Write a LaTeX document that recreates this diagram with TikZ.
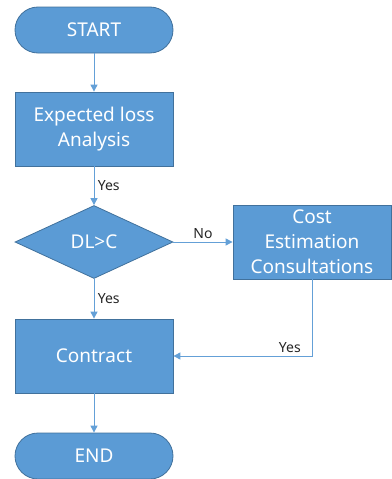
\documentclass[tikz,border=0pt]{standalone}
\usepackage{fontspec}
\setmainfont{Noto Sans}
\usetikzlibrary{shapes.geometric,positioning,arrows.meta}

\definecolor{boxblue}{RGB}{91,155,213}
\definecolor{boxline}{RGB}{65,113,156}
\definecolor{arrowblue}{RGB}{100,160,215}

\tikzset{
  block/.style={rectangle,draw=boxline,fill=boxblue,text=white,line width=0.8pt,
    minimum width=158pt,minimum height=74pt,align=center,
    font=\fontsize{19}{25}\selectfont},
  terminal/.style={block,rounded corners=23pt,minimum height=46pt},
  decision/.style={diamond,draw=boxline,fill=boxblue,text=white,line width=0.8pt,
    aspect=2.16,minimum width=158pt,minimum height=73pt,inner sep=0pt,
    font=\fontsize{19}{25}\selectfont},
  lbl/.style={font=\fontsize{14}{16}\selectfont,text=black!85},
  flow/.style={->,draw=arrowblue,line width=1pt}
}

\begin{document}
\begin{tikzpicture}[>={Triangle[width=7pt,length=7pt]},node distance=99pt,on grid,auto,
    every edge/.style={draw,flow}]
  \useasboundingbox (0,0) rectangle (391pt,-479pt);
                \node[terminal] (start) at (94pt,-30pt) {START};
                \node[block] (loss) [below=99pt of start] {Expected loss\\Analysis};
                \node[decision] (dlc) [below=113pt of loss] {DL>C};
                \node[block] (cost) [right=218pt of dlc] {Cost\\Estimation\\Consultations};
                \node[block] (contract) [below=114pt of dlc] {Contract};
                \node[terminal] (end) [below=100pt of contract] {END};
                \path[every node/.style={lbl}]
                (start) edge (loss)
                (loss) edge node[right] {Yes} (dlc)
                (dlc) edge node[above] {No} (cost)
                (dlc) edge node[right] {Yes} (contract)
                (contract) edge (end);
                \draw[flow] (cost.south) |- node[lbl,pos=0.58,above] {Yes} (contract.east);
            \end{tikzpicture}
\end{document}
